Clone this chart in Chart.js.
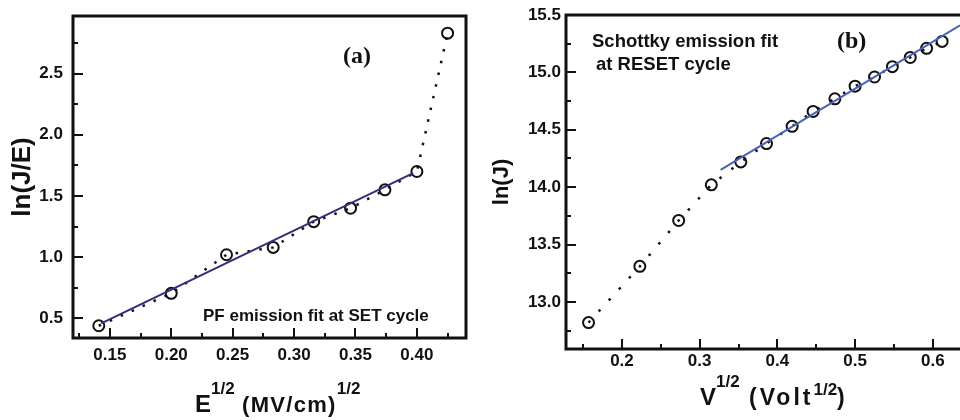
<!DOCTYPE html>
<html>
<head>
<meta charset="utf-8">
<script src="https://cdn.jsdelivr.net/npm/chart.js@4.4.1/dist/chart.umd.min.js"></script>
<style>
  html, body { margin:0; padding:0; background:#fff; overflow:hidden; }
  #wrap { position:relative; width:960px; height:420px; font-family:"Liberation Sans", Arial, sans-serif; color:#111; }
  .panel { position:absolute; top:0; width:480px; height:420px; }
  .note { position:absolute; white-space:nowrap; font-weight:bold; line-height:1; }
  .serif { font-family:"Liberation Serif", "Times New Roman", serif; font-size:24px; }
  .xtitle { position:absolute; white-space:nowrap; font-weight:bold; font-size:24px; line-height:24px; }
  .sup { position:relative; font-size:17px; }
</style>
</head>
<body>
<div id="wrap">
  <div class="panel" style="left:0"><canvas id="chartA"></canvas></div>
  <div class="panel" style="left:480px"><canvas id="chartB"></canvas></div>

  <div class="note serif" style="left:343px; top:43px;">(a)</div>
  <div class="note" style="left:203px; top:307px; font-size:17px;">PF emission fit at SET cycle</div>
  <div class="xtitle" style="left:195px; top:392px;">E<span class="sup" style="top:-18px">1/2</span><span style="font-size:22px; letter-spacing:1.3px"> (MV/cm)</span><span class="sup" style="top:-18px">1/2</span></div>

  <div class="note serif" style="left:837px; top:28px;">(b)</div>
  <div class="note" style="left:592px; top:29px; font-size:18.5px; line-height:23px;">Schottky emission fit<br><span style="margin-left:4px">at RESET cycle</span></div>
  <div class="xtitle" style="left:700px; top:385px;">V<span class="sup" style="top:-18px">1/2</span><span style="font-size:23px; letter-spacing:3px"> (Volt</span><span class="sup" style="top:-10px">1/2</span><span style="font-size:23px">)</span></div>
</div>
<script>
// (a) Poole-Frenkel plot, SET cycle
const setX     = [0.141, 0.200, 0.245, 0.283, 0.316, 0.346, 0.374, 0.400, 0.425];
const setLnJE  = [0.44, 0.705, 1.02, 1.08, 1.29, 1.40, 1.55, 1.70, 2.83];
const setFitX  = [0.143, 0.397];
const setFitY  = [0.46, 1.686];
const setXLabels = ['0.15', '0.20', '0.25', '0.30', '0.35', '0.40'];
const setYLabels = ['0.5', '1.0', '1.5', '2.0', '2.5'];

// (b) Schottky plot, RESET cycle
const resetX    = [0.157, 0.223, 0.273, 0.315, 0.353, 0.386, 0.419, 0.446, 0.474, 0.500, 0.525, 0.548, 0.571, 0.592, 0.612];
const resetLnJ  = [12.82, 13.31, 13.71, 14.02, 14.22, 14.38, 14.53, 14.66, 14.77, 14.88, 14.96, 15.05, 15.13, 15.21, 15.27];
const resetFitX = [0.327, 0.635];
const resetFitY = [14.15, 15.41];
const resetXLabels = ['0.2', '0.3', '0.4', '0.5', '0.6'];
const resetYLabels = ['13.0', '13.5', '14.0', '14.5', '15.0', '15.5'];

Chart.defaults.font.family = '"Liberation Sans", Arial, sans-serif';
Chart.defaults.color = '#111';

const toPoints = (xs, ys) => xs.map((x, i) => ({x: x, y: ys[i]}));

// box frame + inward ticks (long where labelled, short otherwise)
const frameTicks = {
  id: 'frameTicks',
  afterDatasetsDraw(chart, args, opts) {
    const ctx = chart.ctx, a = chart.chartArea;
    const xs = chart.scales.x, ys = chart.scales.y;
    ctx.save();
    ctx.strokeStyle = '#111';
    ctx.lineWidth = 2;
    ctx.beginPath();
    xs.ticks.forEach(t => {
      const px = Math.round(xs.getPixelForValue(t.value));
      ctx.moveTo(px, a.bottom);
      ctx.lineTo(px, a.bottom - (t.label ? 10 : 5));
    });
    ys.ticks.forEach(t => {
      const py = Math.round(ys.getPixelForValue(t.value));
      ctx.moveTo(a.left, py);
      ctx.lineTo(a.left + (t.label ? 10 : 5), py);
    });
    ctx.stroke();
    ctx.lineWidth = 3;
    ctx.beginPath();
    if (opts.openRight) {
      ctx.moveTo(a.right, a.top);
      ctx.lineTo(a.left, a.top);
      ctx.lineTo(a.left, a.bottom);
      ctx.lineTo(a.right, a.bottom);
    } else {
      ctx.rect(a.left, a.top, a.right - a.left, a.bottom - a.top);
    }
    ctx.stroke();
    ctx.restore();
  }
};

function axis(min, max, step, labels, pad, fitSize, isX) {
  return {
    type: 'linear',
    min: min,
    max: max,
    grid: { display: false, drawTicks: false },
    border: { display: false },
    ticks: {
      stepSize: step,
      includeBounds: false,
      autoSkip: false,
      maxRotation: 0,
      minRotation: 0,
      padding: pad,
      color: '#111',
      font: { size: 17, weight: 'bold' },
      callback: v => labels.find(s => Math.abs(parseFloat(s) - v) < 1e-6) || ''
    },
    afterFit: s => {
      if (isX) s.height = fitSize; else s.width = fitSize;
      s.paddingLeft = s.paddingRight = s.paddingTop = s.paddingBottom = 0;
    }
  };
}

function drawPanel(id, cfg) {
  new Chart(document.getElementById(id).getContext('2d'), {
    type: 'scatter',
    data: {
      datasets: [{
        data: toPoints(cfg.fitX, cfg.fitY),
        showLine: true,
        borderColor: cfg.fitColor,
        borderWidth: 2,
        pointRadius: 0
      }, {
        data: toPoints(cfg.x, cfg.y),
        showLine: true,
        borderColor: '#111',
        borderWidth: 2.5,
        borderDash: cfg.dash,
        pointRadius: 5.5,
        pointBorderWidth: 2,
        pointBorderColor: '#111',
        pointBackgroundColor: 'rgba(0,0,0,0)'
      }]
    },
    options: {
      responsive: true,
      maintainAspectRatio: false,
      animation: false,
      events: [],
      layout: { padding: cfg.padding, autoPadding: false },
      plugins: { legend: { display: false }, tooltip: { enabled: false }, frameTicks: { openRight: cfg.openRight } },
      scales: { x: cfg.xAxis, y: cfg.yAxis }
    },
    plugins: [frameTicks]
  });
}

const yA = axis(0.34, 2.97, 0.25, setYLabels, 10, 73, false);
yA.title = { display: true, text: 'ln(J/E)', font: { size: 26, weight: 'bold' }, padding: { top: 7, bottom: 0 } };
drawPanel('chartA', {
  x: setX, y: setLnJE, fitX: setFitX, fitY: setFitY,
  fitColor: '#2f2f7c', dash: [2.5, 9.5], openRight: false,
  padding: { top: 16, right: 14, left: 0, bottom: 0 },
  xAxis: axis(0.12, 0.44, 0.025, setXLabels, 7, 82, true),
  yAxis: yA
});

const yB = axis(12.59, 15.5, 0.25, resetYLabels, 5, 86, false);
yB.title = { display: true, text: 'ln(J)', font: { size: 22, weight: 'bold' }, padding: { top: 9, bottom: 0 } };
drawPanel('chartB', {
  x: resetX, y: resetLnJ, fitX: resetFitX, fitY: resetFitY,
  fitColor: '#4a62b0', dash: [2.5, 12.5], openRight: true,
  padding: { top: 15, right: 0, left: 0, bottom: 0 },
  xAxis: axis(0.128, 0.635, 0.05, resetXLabels, 2, 71, true),
  yAxis: yB
});
</script>
</body>
</html>
